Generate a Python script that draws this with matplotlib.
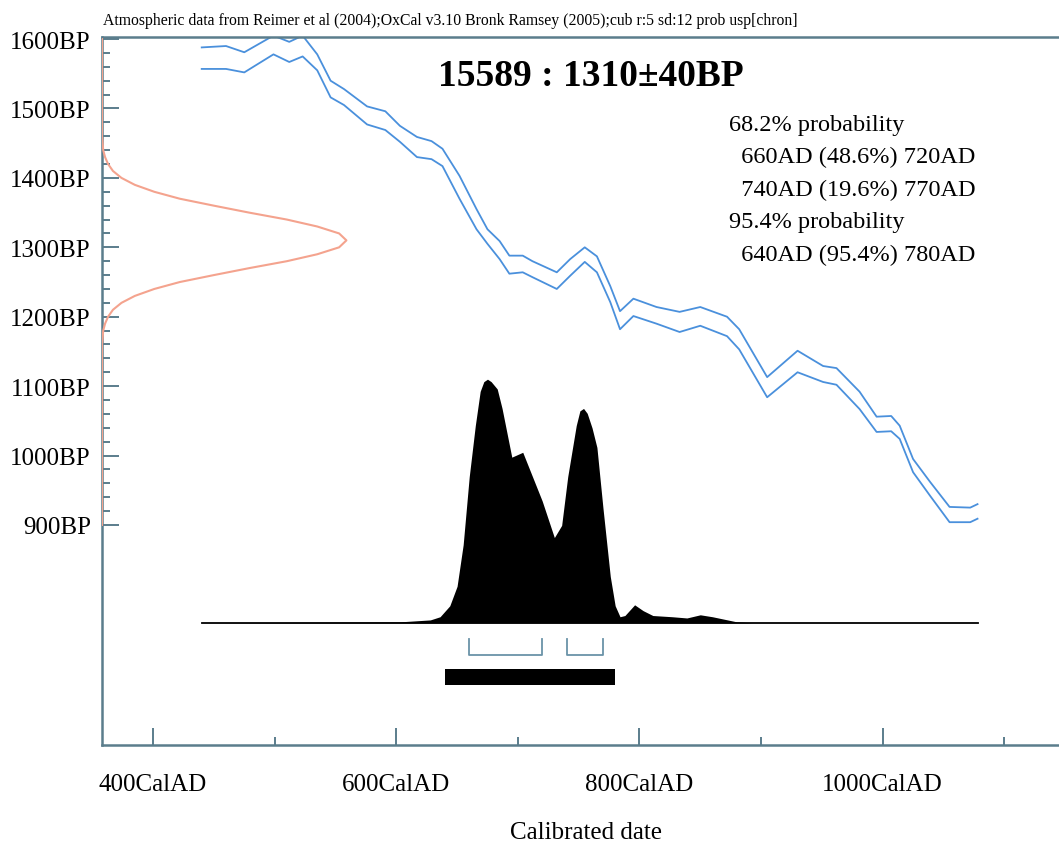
import numpy as np
import matplotlib
matplotlib.use("Agg")
import matplotlib.pyplot as plt
from matplotlib.ticker import FixedLocator, FuncFormatter

# calibration curve (1 sigma envelope), CalAD vs BP
cal_years = [440, 460, 475, 499, 512, 523, 535, 546, 557, 576, 591, 603, 617, 629,
             638, 652, 666, 675, 685, 693, 704, 712, 732, 743, 755, 765, 776, 784,
             795, 814, 833, 850, 872, 882, 905, 930, 951, 962, 981, 995, 1007, 1014,
             1025, 1039, 1055, 1072, 1078]
cal_upper = [1588, 1590, 1581, 1605, 1596, 1605, 1578, 1540, 1528, 1503, 1496, 1475, 1459, 1453,
             1442, 1403, 1355, 1326, 1309, 1288, 1288, 1280, 1264, 1283, 1300, 1287, 1244, 1208,
             1226, 1214, 1207, 1214, 1200, 1182, 1113, 1151, 1129, 1126, 1092, 1056, 1057, 1043,
             995, 962, 926, 925, 930]
cal_lower = [1557, 1557, 1552, 1578, 1567, 1575, 1555, 1516, 1505, 1477, 1469, 1452, 1430, 1427,
             1417, 1370, 1326, 1305, 1283, 1262, 1264, 1257, 1240, 1259, 1279, 1264, 1221, 1182,
             1201, 1190, 1178, 1187, 1172, 1153, 1084, 1120, 1106, 1102, 1067, 1034, 1035, 1024,
             976, 942, 904, 904, 909]

# radiocarbon measurement 1310 +/- 40 BP, drawn against the y axis
c14_bp = [1600, 1460, 1440, 1430, 1420, 1410, 1400, 1390, 1380, 1370, 1360, 1350, 1340,
          1330, 1320, 1310, 1300, 1290, 1280, 1270, 1260, 1250, 1240, 1230, 1220, 1210,
          1200, 1190, 1180, 1160, 900]
c14_width = [0, 0, 1, 2.5, 5, 9, 16, 27, 43, 64, 92, 121, 152,
             177, 195, 201, 195, 177, 152, 121, 92, 64, 43, 27, 16, 9,
             5, 2.5, 1, 0, 0]

# calibrated probability (relative to max)
prob_years = [440, 603, 628, 636, 644, 650, 655, 660, 665, 669, 672, 675, 678, 683, 687, 695,
              704, 712, 720, 730, 736, 741, 748, 751, 754, 757, 761, 765, 770, 776, 780, 784,
              788, 796, 803, 811, 827, 839, 850, 860, 880, 893, 1078]
prob_rel = [0, 0.004, 0.012, 0.025, 0.07, 0.15, 0.32, 0.60, 0.81, 0.95, 0.99, 1.0, 0.99, 0.96,
            0.88, 0.68, 0.70, 0.60, 0.50, 0.35, 0.40, 0.60, 0.81, 0.87, 0.88, 0.86, 0.80, 0.72,
            0.47, 0.19, 0.07, 0.025, 0.03, 0.074, 0.05, 0.03, 0.025, 0.02, 0.033, 0.025, 0.004,
            0, 0]

range68 = [(660, 720), (740, 770)]
range95 = [(640, 780)]

header = ("Atmospheric data from Reimer et al (2004);OxCal v3.10 Bronk Ramsey (2005);"
          "cub r:5 sd:12 prob usp[chron]")
title = "15589 : 1310\u00b140BP"
prob_lines = ["68.2% probability", "  660AD (48.6%) 720AD", "  740AD (19.6%) 770AD",
              "95.4% probability", "  640AD (95.4%) 780AD"]

serif = "Liberation Serif"
spine_col = "#5b7d8c"
blue = "#4a90dc"

fig = plt.figure(figsize=(10.59, 8.45), dpi=100)
ax = fig.add_axes([102 / 1059, 1 - 746 / 845, 1 - 102 / 1059, 708 / 845])
ax.set_xlim(358, 1145)
ax.set_ylim(583, 1603)

ax.plot(cal_years, cal_upper, color=blue, lw=1.3, solid_joinstyle="round")
ax.plot(cal_years, cal_lower, color=blue, lw=1.3, solid_joinstyle="round")

xmin = ax.get_xlim()[0]
ax.plot(xmin + np.array(c14_width), c14_bp, color="#f4a38e", lw=1.5, zorder=3)

base = 759
scale = 351
top = base + np.array(prob_rel) * scale
ax.fill_between(prob_years, base, top, color="black", lw=0)
ax.plot([prob_years[0], prob_years[-1]], [base, base], color="black", lw=1.3)

for a, b in range68:
    ax.plot([a, a, b, b], [736, 713, 713, 736], color="#6a93a8", lw=1.3)
for a, b in range95:
    ax.fill_between([a, b], 670, 692, color="black", lw=0)

for s in ["left", "bottom", "top"]:
    ax.spines[s].set_color(spine_col)
    ax.spines[s].set_linewidth(1.8)
ax.spines["right"].set_visible(False)

ax.xaxis.set_major_locator(FixedLocator([400, 600, 800, 1000]))
ax.xaxis.set_minor_locator(FixedLocator([500, 700, 900, 1100]))
ax.xaxis.set_major_formatter(FuncFormatter(lambda v, p: "%dCalAD" % v))
ax.yaxis.set_major_locator(FixedLocator(np.arange(900, 1601, 100)))
ax.yaxis.set_minor_locator(FixedLocator([v for v in range(920, 1600, 20) if v % 100]))
ax.yaxis.set_major_formatter(FuncFormatter(lambda v, p: "%dBP" % v))

ax.tick_params(which="both", direction="in", color=spine_col, width=1.4)
ax.tick_params(which="major", length=12)
ax.tick_params(which="minor", length=6)
ax.tick_params(axis="x", which="major", pad=20.5)
ax.tick_params(axis="y", which="major", pad=8)
for lab in ax.get_xticklabels() + ax.get_yticklabels():
    lab.set_fontfamily(serif)
    lab.set_fontsize(18)

ax.set_xlabel("Calibrated date", fontfamily=serif, fontsize=18)
ax.xaxis.set_label_coords((586 - 102) / 957, (746 - 822) / 708)

fig.text(103 / 1059, 1 - 21 / 845, header, fontfamily=serif, fontsize=11.3,
         ha="left", va="center")
fig.text(591 / 1059, 1 - 76 / 845, title, fontfamily=serif, fontsize=27,
         fontweight="bold", ha="center", va="center")
for i, line in enumerate(prob_lines):
    fig.text(729 / 1059, 1 - (125 + 32.5 * i) / 845, line, fontfamily=serif,
             fontsize=17.5, ha="left", va="center")

fig.savefig("out.png", dpi=100)
